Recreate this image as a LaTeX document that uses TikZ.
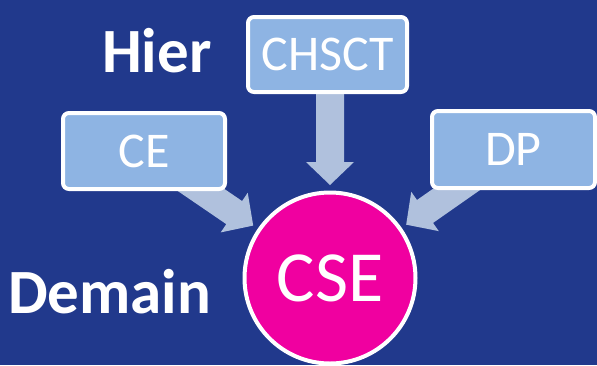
\documentclass[tikz,border=0pt]{standalone}
\usepackage{fontspec}
\setmainfont{Carlito}
\usetikzlibrary{calc}
\definecolor{bgblue}{HTML}{21398C}
\definecolor{boxfill}{HTML}{8EB4E3}
\definecolor{arrowfill}{HTML}{B0C1DD}
\definecolor{csemag}{HTML}{F000A0}
\pgfdeclarelayer{back}
\pgfdeclarelayer{arrows}
\pgfsetlayers{back,arrows,main}
\tikzset{
  box/.style={draw=white, line width=4pt, fill=boxfill, rounded corners=6pt,
    inner sep=0pt, text=white, font=\fontsize{50}{50}\selectfont},
  bubble/.style={circle, draw=white, line width=4pt, fill=csemag, inner sep=0pt,
    minimum size=171pt, text=white, font=\fontsize{72}{72}\selectfont},
  label/.style={anchor=base west, inner sep=0pt, text=white, font=\bfseries\fontsize{63}{63}\selectfont},
  fat/.style={fill=arrowfill}
}
\newcommand\fatarrow[2]{%
  \coordinate (fa-h) at ($(#2)!23pt!(#1)$);
  \fill[fat] ($(#1)!14pt!90:(#2)$) -- ($(fa-h)!14pt!90:(#2)$) -- ($(fa-h)!24pt!90:(#2)$)
    -- (#2) -- ($(fa-h)!24pt!-90:(#2)$) -- ($(fa-h)!14pt!-90:(#2)$)
    -- ($(#1)!14pt!-90:(#2)$) -- cycle;}
\begin{document}
\begin{tikzpicture}[x=1pt,y=-1pt]
\begin{pgfonlayer}{back}
  \fill[bgblue] (0,0) rectangle (597,365);
\end{pgfonlayer}
\useasboundingbox (0,0) rectangle (597,365);
\node[box, minimum width=159pt, minimum height=75pt] (chsct) at (327.5,54.5) {CHSCT};
\node[box, minimum width=162pt, minimum height=76pt] (ce) at (144,151) {CE};
\node[box, minimum width=163pt, minimum height=77pt] (dp) at (513.5,149.5) {DP};
\node[bubble] (cse) at (330,278) {CSE};
\node[label] (hier) at (102,72) {Hier};
\node[label] (demain) at (8,313) {Demain};
\coordinate (tce) at ($(cse.center)!93pt!(ce.center)$);
\coordinate (tdp) at ($(cse.center)!93pt!(dp.center)$);
\coordinate (stop) at (cse.center |- chsct.center);
\coordinate (ttop) at ($(cse.center)!93pt!(stop)$);
\begin{pgfonlayer}{arrows}
  \fatarrow{ce.center}{tce}
  \fatarrow{dp.center}{tdp}
  \fatarrow{stop}{ttop}
\end{pgfonlayer}
\end{tikzpicture}
\end{document}
